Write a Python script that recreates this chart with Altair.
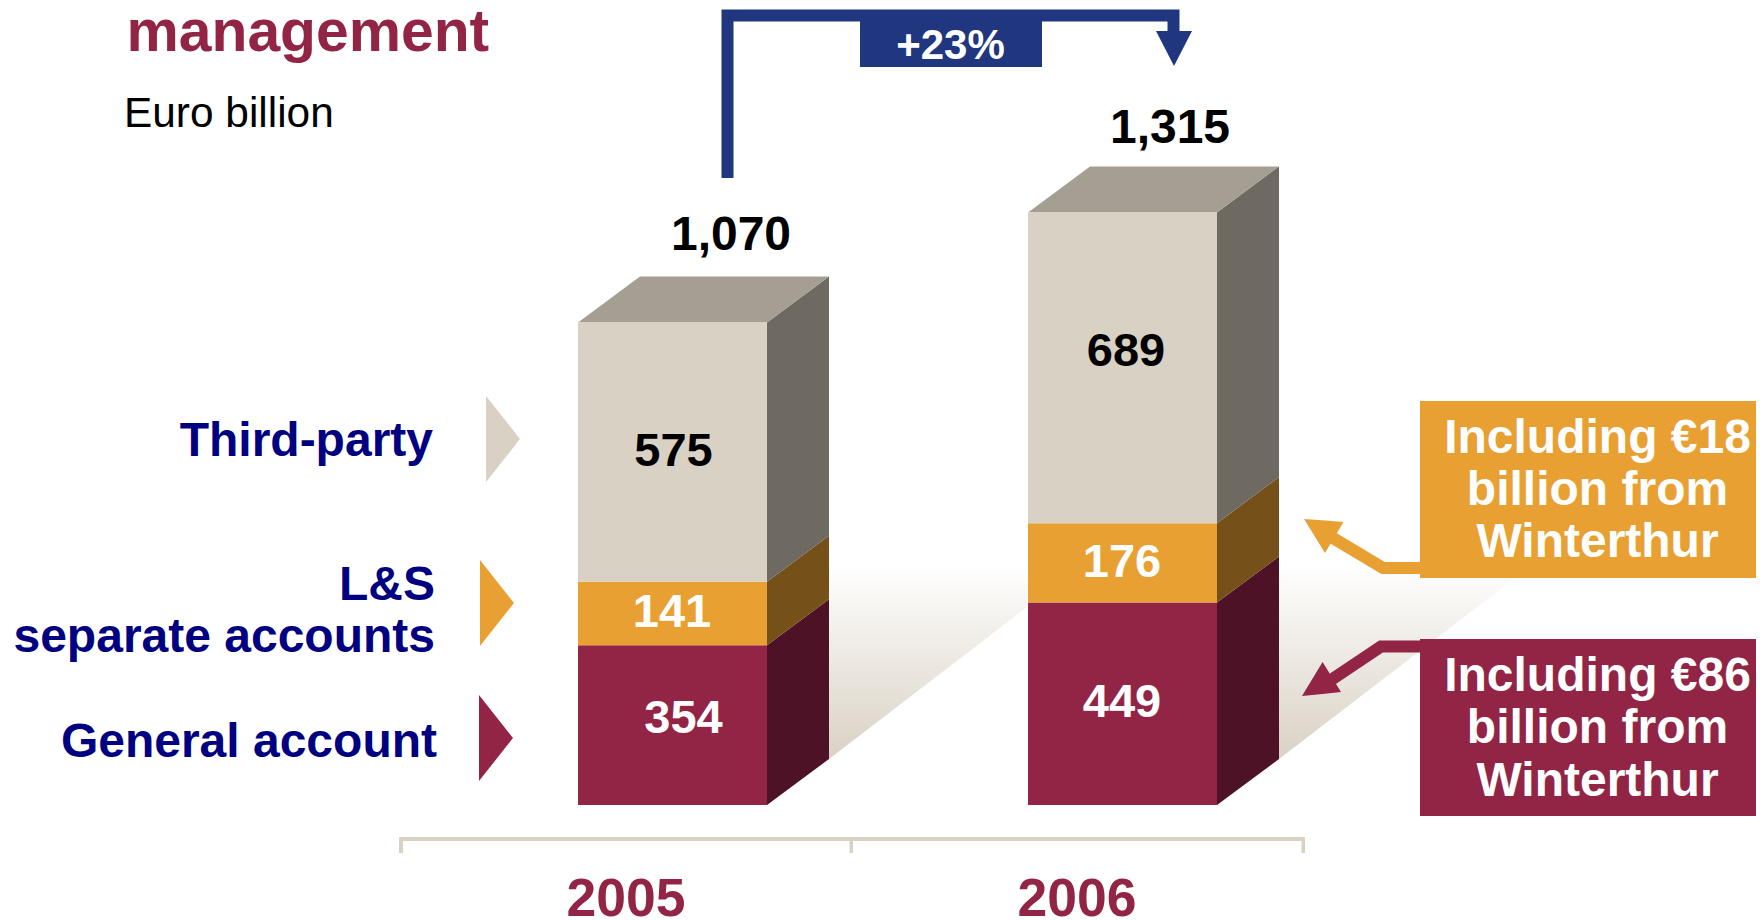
import altair as alt
import pandas as pd

# ---- chart values ----
years = [2005, 2006]
general_account = [354, 449]
ls_separate = [141, 176]
third_party = [575, 689]
totals = ["1,070", "1,315"]
growth = "+23%"
series_names = ["General account", "L&S", "separate accounts", "Third-party"]
callout_orange = ["Including €18", "billion from", "Winterthur"]
callout_maroon = ["Including €86", "billion from", "Winterthur"]

# ---- styles ----
FONT = "Liberation Sans"
CREAM, ORANGE, MAROON = "#d9d1c4", "#e9a033", "#922445"
CREAM_S, ORANGE_S, MAROON_S = "#6e6a62", "#755019", "#4d1226"
TOPC, BLUE, NAVY = "#a59e92", "#20367f", "#000080"

W, H = 1748, 912
YEAR_PX, X2005, BASE_Y, PX_PER = 450.0, 672.5, 805.0, 0.451


def X(px):
    return 2005 + (px - X2005) / YEAR_PX


def V(py):
    return (BASE_Y - py) / PX_PER


xs = alt.Scale(domain=[X(8), X(8 + W)], nice=False, zero=False)
ys = alt.Scale(domain=[V(8 + H), V(8)], nice=False, zero=False)
ex = alt.X("x:Q", scale=xs, axis=None)
ey = alt.Y("y:Q", scale=ys, axis=None)
ey2 = alt.Y2("y2:Q")
ex2 = alt.X2("x2:Q")

HALF = 94.5 / YEAR_PX
DX = 62 / YEAR_PX
DV = 46 / PX_PER


def convex(points, colour, name):
    """Turn a convex polygon into rows of an area mark."""
    out = []
    n = len(points)
    for x in sorted({p[0] for p in points}):
        hits = []
        for i in range(n):
            a, b = points[i], points[(i + 1) % n]
            lo, hi = min(a[0], b[0]), max(a[0], b[0])
            if lo <= x <= hi:
                if a[0] == b[0]:
                    hits += [a[1], b[1]]
                else:
                    hits.append(a[1] + (b[1] - a[1]) * (x - a[0]) / (b[0] - a[0]))
        out.append(dict(x=x, y=min(hits), y2=max(hits), c=colour, id=name))
    return out


def px_poly(points, colour, name):
    return convex([(X(a), V(b)) for a, b in points], colour, name)


# ---- 3D bars, all from the value arrays ----
front, faces = [], []
for i, yr in enumerate(years):
    lo = 0
    xl, xr = yr - HALF, yr + HALF
    for val, c, cs, nm in [
        (general_account[i], MAROON, MAROON_S, "g"),
        (ls_separate[i], ORANGE, ORANGE_S, "l"),
        (third_party[i], CREAM, CREAM_S, "t"),
    ]:
        hi = lo + val
        front.append(dict(x=xl, x2=xr, y=lo, y2=hi, c=c))
        faces += convex(
            [(xr, lo), (xr + DX, lo + DV), (xr + DX, hi + DV), (xr, hi)], cs, f"{yr}{nm}"
        )
        lo = hi
    faces += convex(
        [(xl, lo), (xr, lo), (xr + DX, lo + DV), (xl + DX, lo + DV)], TOPC, f"{yr}top"
    )

# ---- shadows behind the bars ----
shadow = []
for yr in years:
    x0 = yr + HALF + DX
    pts = [(x0, V(565)), (x0 + 253 / YEAR_PX, V(565)), (x0, 0 + DV)]
    shadow += convex(pts, "s", f"s{yr}")

# ---- decorations ----
triangles = (
    px_poly([(486, 396), (520, 439), (486, 482)], CREAM, "a")
    + px_poly([(480, 560), (514, 603), (480, 646)], ORANGE, "b")
    + px_poly([(479, 695), (513, 738), (479, 781)], MAROON, "c")
    + px_poly([(1156, 31), (1192, 31), (1174, 66)], BLUE, "d")
    + px_poly([(1304, 519), (1343.5, 522), (1325, 553)], ORANGE, "e")
    + px_poly([(1302, 696), (1322.6, 662), (1341, 692)], MAROON, "f")
)


def box(x0, x1, y0, y1, c):
    return dict(x=X(x0), x2=X(x1), y=V(y0), y2=V(y1), c=c)


boxes = [
    box(1420, 1764, 401, 578, ORANGE),
    box(1420, 1764, 639, 816, MAROON),
    box(860, 1042, 20, 67, BLUE),
    box(400, 1305, 837, 841, CREAM),
    box(399, 403, 837, 853, CREAM),
    box(849.5, 853, 837, 853, CREAM),
    box(1301.5, 1305, 837, 853, CREAM),
]


def polyline(points, c, name):
    return [
        dict(x=X(a), y=V(b), o=k, c=c, id=name) for k, (a, b) in enumerate(points)
    ]


lines = (
    polyline([(727.5, 178), (727.5, 15.5), (1173.5, 15.5), (1173.5, 31)], BLUE, "p")
    + polyline([(1420, 568), (1383, 568), (1333, 538)], ORANGE, "q")
    + polyline([(1420, 646.5), (1381, 646.5), (1331, 680)], MAROON, "r")
)


def t(px, py, s):
    return dict(x=X(px), y=V(py), t=s)


def text(rows, size, colour, bold=True, align="center"):
    return (
        alt.Chart(pd.DataFrame(rows))
        .mark_text(
            font=FONT,
            fontSize=size,
            color=colour,
            fontWeight="bold" if bold else "normal",
            align=align,
            baseline="alphabetic",
        )
        .encode(x=ex, y=ey, text="t:N")
    )


c_none = alt.Color("c:N", scale=None, legend=None)

layers = [
    alt.Chart(pd.DataFrame(shadow))
    .mark_area(
        color=alt.Gradient(
            gradient="linear",
            x1=0, x2=0, y1=0, y2=1,
            stops=[
                alt.GradientStop(color="#ffffff", offset=0),
                alt.GradientStop(color=CREAM, offset=1),
            ],
        )
    )
    .encode(x=ex, y=ey, y2=ey2, detail="id:N"),
    alt.Chart(pd.DataFrame(faces)).mark_area().encode(x=ex, y=ey, y2=ey2, color=c_none, detail="id:N"),
    alt.Chart(pd.DataFrame(front)).mark_rect().encode(x=ex, x2=ex2, y=ey, y2=ey2, color=c_none),
    alt.Chart(pd.DataFrame(boxes)).mark_rect().encode(x=ex, x2=ex2, y=ey, y2=ey2, color=c_none),
    alt.Chart(pd.DataFrame(lines))
    .mark_line(strokeWidth=12, strokeJoin="miter", strokeCap="butt")
    .encode(x=ex, y=ey, color=c_none, detail="id:N", order="o:Q"),
    alt.Chart(pd.DataFrame(triangles)).mark_area().encode(x=ex, y=ey, y2=ey2, color=c_none, detail="id:N"),
    text([t(126.5, 51, "management")], 58.8, MAROON, align="left"),
    text([t(124, 127, "Euro billion")], 42.4, "#000000", bold=False, align="left"),
    text(
        [
            t(433, 456, series_names[3]),
            t(435, 600, series_names[1]),
            t(435, 652, series_names[2]),
            t(437, 757, series_names[0]),
        ],
        48, NAVY, align="right",
    ),
    text([t(673.5, 466, str(third_party[0])), t(1126, 365.5, str(third_party[1]))], 47, "#000000"),
    text(
        [
            t(672, 627, str(ls_separate[0])),
            t(1122, 577, str(ls_separate[1])),
            t(683.5, 733, str(general_account[0])),
            t(1122, 717, str(general_account[1])),
        ],
        47, "#ffffff",
    ),
    text([t(731, 250, totals[0]), t(1170, 143, totals[1])], 48, "#000000"),
    text([t(626, 916, str(years[0])), t(1077, 916, str(years[1]))], 53.5, MAROON),
    text([t(950.5, 58.5, growth)], 42, "#ffffff"),
    text(
        [t(1597.5, py, s) for py, s in zip([453, 505, 557], callout_orange)]
        + [t(1597.5, py, s) for py, s in zip([691, 743, 796], callout_maroon)],
        48, "#ffffff",
    ),
]

chart = (
    alt.layer(*layers)
    .properties(width=W, height=H, padding=0, background="#ffffff",
                autosize=alt.AutoSizeParams(type="none"))
    .configure_view(stroke=None)
)

chart.save("out.html", embed_options={"renderer": "svg", "actions": False})
